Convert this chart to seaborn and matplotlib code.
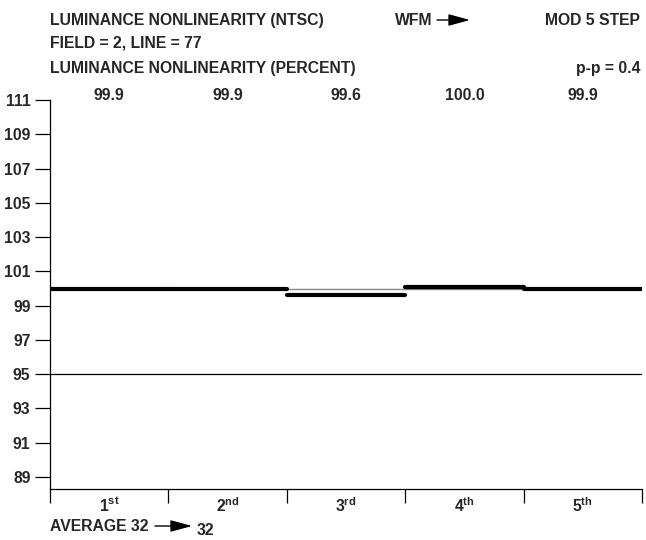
import numpy as np
import pandas as pd
import seaborn as sns
import matplotlib
matplotlib.use('Agg')
import matplotlib.pyplot as plt

# data
steps = ['1st', '2nd', '3rd', '4th', '5th']
step_labels = ['1$^{\\mathbf{st}}$', '2$^{\\mathbf{nd}}$', '3$^{\\mathbf{rd}}$',
               '4$^{\\mathbf{th}}$', '5$^{\\mathbf{th}}$']
step_levels = [100.0, 100.0, 99.65, 100.08, 99.95]
step_readout = ['99.9', '99.9', '99.6', '100.0', '99.9']
ref_level = 100.0
limit_level = 95.0
yticks = [89, 91, 93, 95, 97, 99, 101, 103, 105, 107, 109, 111]

FS = 11.3

sns.set_theme(style='ticks')
plt.rcParams['font.family'] = ['Liberation Sans', 'DejaVu Sans']
plt.rcParams['font.weight'] = 'bold'
plt.rcParams['mathtext.fontset'] = 'custom'
plt.rcParams['mathtext.rm'] = 'Liberation Sans:bold'
plt.rcParams['mathtext.bf'] = 'Liberation Sans:bold'

W, H = 646, 540
fig = plt.figure(figsize=(W / 100, H / 100), dpi=100)
ax = fig.add_axes([50 / W, 1 - 489 / H, (642 - 50) / W, (489 - 100) / H])

# one horizontal segment per step
rows = []
for i, (s, v) in enumerate(zip(steps, step_levels)):
    rows.append({'step': s, 'x': i, 'y': v})
    rows.append({'step': s, 'x': i + 1, 'y': v})
df = pd.DataFrame(rows)

ax.axhline(ref_level, color='#888888', lw=1, zorder=1)
ax.axhline(limit_level, color='black', lw=0.9, zorder=1)
sns.lineplot(data=df, x='x', y='y', units='step', estimator=None,
             color='black', lw=3, ax=ax, legend=False, zorder=3)

ax.set_xlim(0, len(steps))
ax.set_ylim(88.3, 111)
ax.set_yticks(yticks)
ax.set_yticklabels([str(t) for t in yticks], fontsize=FS, fontweight='bold')
ax.set_xticks(np.arange(len(steps) + 1))
ax.set_xticklabels([])
ax.set_xticks(np.arange(len(steps)) + 0.5, minor=True)
ax.set_xticklabels(step_labels, minor=True, fontsize=FS, fontweight='bold')
ax.tick_params(axis='x', which='major', direction='out', length=10, width=0.9, color='black')
ax.tick_params(axis='x', which='minor', length=0, pad=5)
ax.tick_params(axis='y', direction='out', length=11, width=0.9, color='black', pad=3)
ax.set_xlabel('')
ax.set_ylabel('')
for sp in ['top', 'right']:
    ax.spines[sp].set_visible(False)
for sp in ['left', 'bottom']:
    ax.spines[sp].set_color('black')
    ax.spines[sp].set_linewidth(0.9)

def ftxt(x, y, s, ha='left'):
    # y is the baseline in picture pixels
    fig.text(x / W, 1 - y / H, s, ha=ha, va='baseline', fontsize=FS, fontweight='bold')

def farrow(x0, x1, y):
    fig.add_artist(matplotlib.patches.FancyArrowPatch(
        (x0 / W, 1 - y / H), (x1 / W, 1 - y / H), transform=fig.transFigure,
        arrowstyle='-|>,head_length=1.1,head_width=0.3', color='black', lw=1,
        mutation_scale=12, shrinkA=0, shrinkB=0))

# readouts above each step
for i, t in enumerate(step_readout):
    ax.annotate(t, (i + 0.5, 1.0), xycoords=ax.get_xaxis_transform(),
                xytext=(0, 0), textcoords='offset points',
                ha='center', va='baseline', fontsize=FS, fontweight='bold')

ftxt(50, 25, 'LUMINANCE NONLINEARITY (NTSC)')
ftxt(395, 25, 'WFM')
farrow(437, 470, 20)
ftxt(640, 25, 'MOD 5 STEP', ha='right')
ftxt(50, 48, 'FIELD = 2, LINE = 77')
ftxt(50, 73, 'LUMINANCE NONLINEARITY (PERCENT)')
ftxt(640, 73, 'p-p = 0.4', ha='right')
ftxt(50, 531, 'AVERAGE 32')
farrow(155, 192, 526)
ftxt(197, 535, '32')

fig.savefig('out.png', dpi=100)
